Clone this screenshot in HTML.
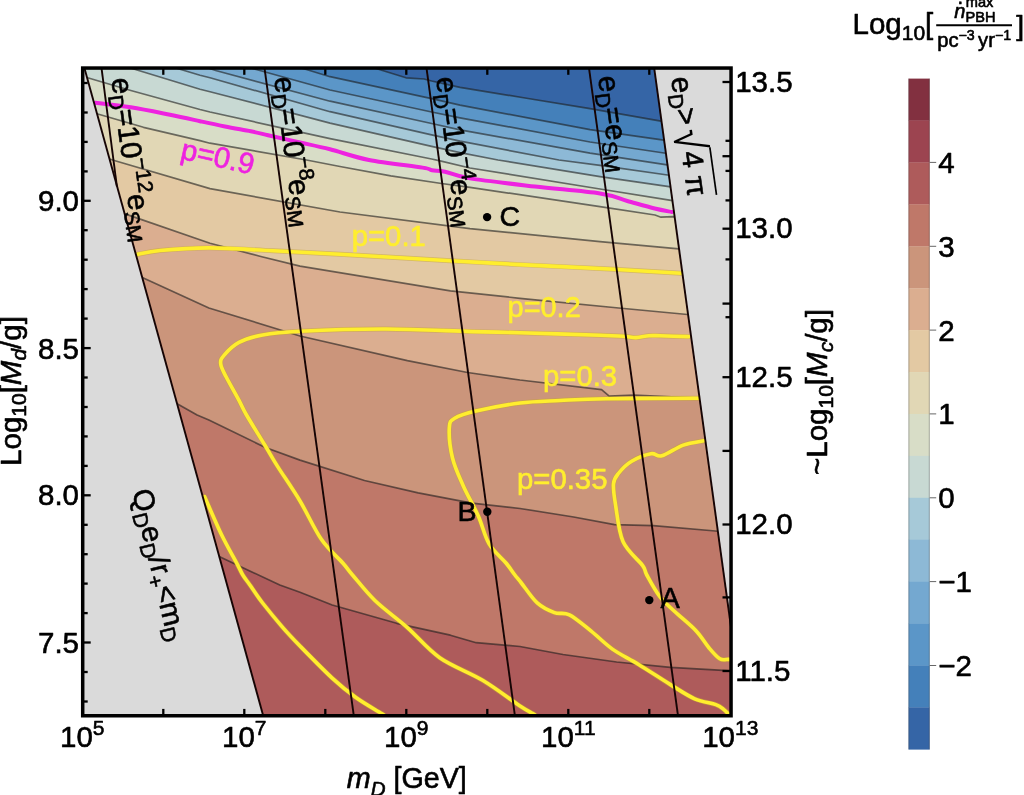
<!DOCTYPE html>
<html><head><meta charset="utf-8"><title>plot</title>
<style>html,body{margin:0;padding:0;background:#fff}svg{display:block}text{stroke:#000;stroke-width:0.6px;stroke-linejoin:round}.y text{stroke:#ffee2e}text.m{stroke:#ee22e0}</style>
</head><body>
<svg width="1024" height="795" viewBox="0 0 1024 795" font-family="'Liberation Sans', sans-serif">
<rect width="1024" height="795" fill="#fff"/>
<defs>
<clipPath id="frame"><rect x="82.5" y="68.0" width="648.5" height="647.7"/></clipPath>
<clipPath id="reg"><path d="M84.4,68.0 L654.2,68.0 L731.0,627.0 L731.0,715.7 L263.2,715.7Z"/></clipPath>
</defs>
<g clip-path="url(#reg)">
<rect x="60" y="50" width="700" height="700" fill="#3565A6"/>
<path d="M350.0,60.0 L383.3,70.8 L406.0,77.8 L424.0,79.0 L431.6,81.0 L460.0,87.3 L525.0,98.0 L590.0,108.6 L659.5,120.8 L740.0,134.0 L760,800 L-10,800 L-10,60.0 Z" fill="#4480BA"/>
<path d="M275.0,60.0 L308.0,70.0 L330.0,76.7 L431.6,98.7 L460.0,105.1 L590.0,129.7 L662.0,139.8 L740.0,151.0 L760,800 L-10,800 L-10,60.0 Z" fill="#5B96C8"/>
<path d="M225.0,60.0 L258.0,70.0 L330.0,90.0 L431.6,112.0 L460.0,117.8 L590.0,142.0 L664.0,153.0 L740.0,164.0 L760,800 L-10,800 L-10,60.0 Z" fill="#74A8D0"/>
<path d="M185.0,60.0 L216.5,70.8 L330.0,101.2 L431.6,123.5 L460.0,129.8 L590.0,153.2 L665.5,164.7 L740.0,176.0 L760,800 L-10,800 L-10,60.0 Z" fill="#8DB9D6"/>
<path d="M150.0,60.0 L185.0,70.8 L200.0,75.2 L210.0,77.8 L330.0,111.7 L431.6,134.9 L460.0,141.2 L558.9,160.0 L600.0,165.3 L667.5,175.0 L740.0,186.0 L760,800 L-10,800 L-10,60.0 Z" fill="#A6C9D8"/>
<path d="M105.0,60.0 L137.0,70.0 L200.0,89.2 L210.0,91.7 L330.0,123.1 L431.6,146.3 L460.0,152.7 L498.0,160.0 L600.0,176.7 L669.0,186.7 L740.0,197.0 L760,800 L-10,800 L-10,60.0 Z" fill="#C8D9D3"/>
<path d="M60.0,69.0 L87.6,77.8 L130.8,90.5 L200.0,109.5 L210.0,112.0 L330.0,138.7 L431.6,159.0 L439.0,160.6 L470.0,168.0 L600.0,189.0 L671.0,200.3 L740.0,211.0 L760,800 L-10,800 L-10,69.0 Z" fill="#D8DDC7"/>
<path d="M60.0,103.0 L97.8,114.0 L143.5,127.3 L200.0,140.6 L210.0,143.2 L306.5,160.0 L340.0,166.5 L390.8,175.9 L441.6,183.5 L470.0,187.3 L600.0,206.7 L655.0,215.0 L661.0,217.2 L672.8,216.7 L740.0,224.0 L760,800 L-10,800 L-10,103.0 Z" fill="#E1D7B5"/>
<path d="M60.0,145.0 L111.0,159.5 L116.8,161.3 L210.0,188.6 L340.0,212.0 L470.0,228.6 L600.0,241.6 L678.9,248.9 L740.0,255.0 L760,800 L-10,800 L-10,145.0 Z" fill="#E3C9A3"/>
<path d="M60.0,192.0 L130.8,215.9 L210.0,243.2 L236.0,250.0 L260.8,256.5 L300.0,266.1 L450.4,290.8 L520.0,298.3 L618.8,308.0 L687.6,314.5 L740.0,319.0 L760,800 L-10,800 L-10,192.0 Z" fill="#DBAE90"/>
<path d="M60.0,240.0 L143.4,278.0 L208.9,308.0 L300.0,336.0 L407.4,360.6 L467.6,372.5 L520.0,380.0 L601.6,389.6 L609.2,396.1 L633.9,395.0 L698.3,398.2 L740.0,400.0 L760,800 L-10,800 L-10,240.0 Z" fill="#CB957B"/>
<path d="M60.0,345.0 L176.7,403.6 L197.1,415.0 L208.9,420.0 L264.8,447.2 L300.0,460.1 L364.5,480.5 L418.2,492.8 L471.9,503.1 L520.0,508.5 L573.7,517.0 L614.5,524.6 L653.2,525.6 L715.5,531.0 L745.0,534.0 L760,800 L-10,800 L-10,345.0 Z" fill="#BF7869"/>
<path d="M60.0,480.0 L219.7,556.8 L251.9,571.9 L279.8,585.0 L300.0,592.2 L332.2,605.0 L396.7,623.3 L450.4,635.2 L476.2,642.7 L520.0,646.5 L563.0,654.5 L616.7,662.0 L670.4,667.4 L727.3,670.6 L745.0,671.5 L760,800 L-10,800 L-10,480.0 Z" fill="#AE5B5B"/>
<g fill="none" stroke="#1c1c1c" stroke-opacity="0.6" stroke-width="1.7" stroke-linejoin="round">
<path d="M350.0,60.0 L383.3,70.8 L406.0,77.8 L424.0,79.0 L431.6,81.0 L460.0,87.3 L525.0,98.0 L590.0,108.6 L659.5,120.8 L740.0,134.0"/>
<path d="M275.0,60.0 L308.0,70.0 L330.0,76.7 L431.6,98.7 L460.0,105.1 L590.0,129.7 L662.0,139.8 L740.0,151.0"/>
<path d="M225.0,60.0 L258.0,70.0 L330.0,90.0 L431.6,112.0 L460.0,117.8 L590.0,142.0 L664.0,153.0 L740.0,164.0"/>
<path d="M185.0,60.0 L216.5,70.8 L330.0,101.2 L431.6,123.5 L460.0,129.8 L590.0,153.2 L665.5,164.7 L740.0,176.0"/>
<path d="M150.0,60.0 L185.0,70.8 L200.0,75.2 L210.0,77.8 L330.0,111.7 L431.6,134.9 L460.0,141.2 L558.9,160.0 L600.0,165.3 L667.5,175.0 L740.0,186.0"/>
<path d="M105.0,60.0 L137.0,70.0 L200.0,89.2 L210.0,91.7 L330.0,123.1 L431.6,146.3 L460.0,152.7 L498.0,160.0 L600.0,176.7 L669.0,186.7 L740.0,197.0"/>
<path d="M60.0,69.0 L87.6,77.8 L130.8,90.5 L200.0,109.5 L210.0,112.0 L330.0,138.7 L431.6,159.0 L439.0,160.6 L470.0,168.0 L600.0,189.0 L671.0,200.3 L740.0,211.0"/>
<path d="M60.0,103.0 L97.8,114.0 L143.5,127.3 L200.0,140.6 L210.0,143.2 L306.5,160.0 L340.0,166.5 L390.8,175.9 L441.6,183.5 L470.0,187.3 L600.0,206.7 L655.0,215.0 L661.0,217.2 L672.8,216.7 L740.0,224.0"/>
<path d="M60.0,145.0 L111.0,159.5 L116.8,161.3 L210.0,188.6 L340.0,212.0 L470.0,228.6 L600.0,241.6 L678.9,248.9 L740.0,255.0"/>
<path d="M60.0,192.0 L130.8,215.9 L210.0,243.2 L236.0,250.0 L260.8,256.5 L300.0,266.1 L450.4,290.8 L520.0,298.3 L618.8,308.0 L687.6,314.5 L740.0,319.0"/>
<path d="M60.0,240.0 L143.4,278.0 L208.9,308.0 L300.0,336.0 L407.4,360.6 L467.6,372.5 L520.0,380.0 L601.6,389.6 L609.2,396.1 L633.9,395.0 L698.3,398.2 L740.0,400.0"/>
<path d="M60.0,345.0 L176.7,403.6 L197.1,415.0 L208.9,420.0 L264.8,447.2 L300.0,460.1 L364.5,480.5 L418.2,492.8 L471.9,503.1 L520.0,508.5 L573.7,517.0 L614.5,524.6 L653.2,525.6 L715.5,531.0 L745.0,534.0"/>
<path d="M60.0,480.0 L219.7,556.8 L251.9,571.9 L279.8,585.0 L300.0,592.2 L332.2,605.0 L396.7,623.3 L450.4,635.2 L476.2,642.7 L520.0,646.5 L563.0,654.5 L616.7,662.0 L670.4,667.4 L727.3,670.6 L745.0,671.5"/>
</g>
<g fill="none" stroke="#c7a534" stroke-opacity="0.55" stroke-width="4.9" stroke-linejoin="round" stroke-linecap="round">
<path d="M137.5,254.4 C141.2,253.8 147.9,251.6 160.0,250.5 C172.1,249.4 191.1,247.8 210.0,247.9 C228.9,248.0 251.8,249.8 273.5,250.8 C295.2,251.9 310.5,252.5 340.0,254.2 C369.5,255.8 420.4,259.0 450.4,260.7 C480.4,262.4 492.6,263.2 520.0,264.6 C547.4,266.0 587.6,267.9 614.5,269.3 C641.4,270.7 670.0,272.6 681.1,273.2"/>
<path d="M204.6,496.7 C207.5,503.1 216.4,524.2 221.8,535.3 C227.2,546.4 233.3,556.7 236.8,563.3 C240.3,569.9 240.6,571.4 242.8,575.0 C245.0,578.6 246.6,580.3 249.9,585.0 C253.2,589.7 257.2,596.1 262.6,603.0 C268.0,609.9 275.8,619.4 282.0,626.6 C288.2,633.8 291.6,637.4 300.0,646.0 C308.4,654.6 322.9,669.5 332.2,678.1 C341.5,686.7 347.7,691.6 355.9,697.5 C364.1,703.4 376.8,710.5 381.6,713.6 C386.5,716.7 384.4,715.6 385.0,716.0"/>
<path d="M688.6,336.6 C683.8,336.5 666.6,336.0 660.0,335.8 C653.4,335.6 652.9,335.4 648.9,335.7 C644.9,336.0 640.3,337.5 636.0,337.6 C631.7,337.7 629.1,336.6 623.1,336.2 C617.1,335.8 617.2,335.9 600.0,335.3 C582.8,334.7 541.3,333.3 520.0,332.7 C498.7,332.1 494.3,332.2 472.0,331.6 C449.7,331.0 414.7,329.1 386.0,329.0 C357.3,328.9 320.6,330.2 300.0,331.2 C279.4,332.2 272.8,333.0 262.6,334.9 C252.4,336.8 245.4,339.0 239.0,342.4 C232.6,345.8 227.1,351.7 224.0,355.3 C220.9,358.9 220.3,360.3 220.7,363.9 C221.0,367.5 223.0,370.7 226.1,376.8 C229.2,382.9 235.6,394.0 239.0,400.4 C242.4,406.8 242.2,407.6 246.5,415.0 C250.8,422.4 259.6,436.4 264.8,445.0 C270.0,453.6 271.8,457.3 277.7,466.6 C283.6,475.9 292.7,488.8 300.0,501.0 C307.3,513.2 314.3,529.2 321.5,539.6 C328.7,550.0 337.8,557.3 343.0,563.2 C348.2,569.1 347.1,568.7 352.5,575.0 C357.9,581.3 366.1,592.0 375.2,600.8 C384.3,609.6 396.6,618.1 407.4,627.6 C418.1,637.1 427.2,648.9 439.7,657.7 C452.2,666.5 469.2,672.2 482.6,680.3 C496.0,688.3 511.6,700.5 520.0,706.0 C528.4,711.5 530.2,711.9 532.9,713.6 C535.6,715.3 535.5,715.6 536.0,716.0"/>
<path d="M698.3,398.2 C682.9,398.3 629.0,398.3 606.0,398.7 C583.0,399.1 574.3,399.8 560.0,400.5 C545.7,401.2 534.0,401.2 520.0,403.0 C506.0,404.8 486.9,408.5 476.0,411.0 C465.1,413.5 459.1,415.4 454.7,418.2 C450.2,421.0 449.7,421.3 449.3,427.9 C448.9,434.5 450.2,448.3 452.5,458.0 C454.8,467.7 459.0,476.2 463.3,485.9 C467.6,495.6 474.0,506.3 478.3,516.0 C482.6,525.7 484.5,536.1 489.1,543.9 C493.7,551.7 501.8,557.9 506.0,563.0 C510.2,568.1 512.0,571.2 514.5,574.5 C517.0,577.8 517.2,577.8 521.0,582.5 C524.8,587.2 531.6,597.9 537.2,602.9 C542.8,607.9 549.0,610.6 554.4,612.6 C559.8,614.6 563.3,611.8 569.4,614.8 C575.5,617.8 583.7,625.2 590.9,630.9 C598.1,636.6 604.5,643.5 612.4,649.1 C620.3,654.7 628.5,658.3 638.2,664.2 C647.9,670.1 661.0,678.8 670.4,684.6 C679.8,690.4 687.1,695.5 694.7,698.8 C702.3,702.1 711.0,702.9 715.8,704.6 C720.6,706.4 721.4,707.6 723.6,709.3 C725.8,711.0 727.4,713.1 729.0,714.6 C730.6,716.1 732.3,717.9 733.0,718.5"/>
<path d="M703.7,440.8 C700.3,441.5 690.3,442.6 683.3,445.1 C676.3,447.6 667.2,454.4 661.8,455.8 C656.4,457.2 656.0,452.8 651.0,453.7 C646.0,454.6 637.1,458.0 631.7,461.2 C626.3,464.4 621.8,469.2 618.8,473.0 C615.8,476.8 614.0,478.4 613.5,483.8 C613.0,489.2 614.0,495.5 615.6,505.2 C617.2,514.9 618.6,531.8 623.1,541.8 C627.6,551.8 638.5,559.9 642.5,565.4 C646.5,570.9 643.9,569.8 646.8,575.0 C649.7,580.2 655.1,590.4 659.7,596.5 C664.4,602.6 668.6,605.8 674.7,611.5 C680.8,617.2 690.5,624.8 696.2,630.9 C701.9,637.0 705.2,643.4 709.1,648.0 C713.0,652.6 716.6,656.9 719.8,658.8 C723.0,660.7 726.2,659.3 728.4,659.4 C730.6,659.5 732.2,659.4 733.0,659.4"/>
</g>
<g fill="none" stroke="#ffee2e" stroke-width="3.6" stroke-linejoin="round" stroke-linecap="round">
<path d="M137.5,254.4 C141.2,253.8 147.9,251.6 160.0,250.5 C172.1,249.4 191.1,247.8 210.0,247.9 C228.9,248.0 251.8,249.8 273.5,250.8 C295.2,251.9 310.5,252.5 340.0,254.2 C369.5,255.8 420.4,259.0 450.4,260.7 C480.4,262.4 492.6,263.2 520.0,264.6 C547.4,266.0 587.6,267.9 614.5,269.3 C641.4,270.7 670.0,272.6 681.1,273.2"/>
<path d="M204.6,496.7 C207.5,503.1 216.4,524.2 221.8,535.3 C227.2,546.4 233.3,556.7 236.8,563.3 C240.3,569.9 240.6,571.4 242.8,575.0 C245.0,578.6 246.6,580.3 249.9,585.0 C253.2,589.7 257.2,596.1 262.6,603.0 C268.0,609.9 275.8,619.4 282.0,626.6 C288.2,633.8 291.6,637.4 300.0,646.0 C308.4,654.6 322.9,669.5 332.2,678.1 C341.5,686.7 347.7,691.6 355.9,697.5 C364.1,703.4 376.8,710.5 381.6,713.6 C386.5,716.7 384.4,715.6 385.0,716.0"/>
<path d="M688.6,336.6 C683.8,336.5 666.6,336.0 660.0,335.8 C653.4,335.6 652.9,335.4 648.9,335.7 C644.9,336.0 640.3,337.5 636.0,337.6 C631.7,337.7 629.1,336.6 623.1,336.2 C617.1,335.8 617.2,335.9 600.0,335.3 C582.8,334.7 541.3,333.3 520.0,332.7 C498.7,332.1 494.3,332.2 472.0,331.6 C449.7,331.0 414.7,329.1 386.0,329.0 C357.3,328.9 320.6,330.2 300.0,331.2 C279.4,332.2 272.8,333.0 262.6,334.9 C252.4,336.8 245.4,339.0 239.0,342.4 C232.6,345.8 227.1,351.7 224.0,355.3 C220.9,358.9 220.3,360.3 220.7,363.9 C221.0,367.5 223.0,370.7 226.1,376.8 C229.2,382.9 235.6,394.0 239.0,400.4 C242.4,406.8 242.2,407.6 246.5,415.0 C250.8,422.4 259.6,436.4 264.8,445.0 C270.0,453.6 271.8,457.3 277.7,466.6 C283.6,475.9 292.7,488.8 300.0,501.0 C307.3,513.2 314.3,529.2 321.5,539.6 C328.7,550.0 337.8,557.3 343.0,563.2 C348.2,569.1 347.1,568.7 352.5,575.0 C357.9,581.3 366.1,592.0 375.2,600.8 C384.3,609.6 396.6,618.1 407.4,627.6 C418.1,637.1 427.2,648.9 439.7,657.7 C452.2,666.5 469.2,672.2 482.6,680.3 C496.0,688.3 511.6,700.5 520.0,706.0 C528.4,711.5 530.2,711.9 532.9,713.6 C535.6,715.3 535.5,715.6 536.0,716.0"/>
<path d="M698.3,398.2 C682.9,398.3 629.0,398.3 606.0,398.7 C583.0,399.1 574.3,399.8 560.0,400.5 C545.7,401.2 534.0,401.2 520.0,403.0 C506.0,404.8 486.9,408.5 476.0,411.0 C465.1,413.5 459.1,415.4 454.7,418.2 C450.2,421.0 449.7,421.3 449.3,427.9 C448.9,434.5 450.2,448.3 452.5,458.0 C454.8,467.7 459.0,476.2 463.3,485.9 C467.6,495.6 474.0,506.3 478.3,516.0 C482.6,525.7 484.5,536.1 489.1,543.9 C493.7,551.7 501.8,557.9 506.0,563.0 C510.2,568.1 512.0,571.2 514.5,574.5 C517.0,577.8 517.2,577.8 521.0,582.5 C524.8,587.2 531.6,597.9 537.2,602.9 C542.8,607.9 549.0,610.6 554.4,612.6 C559.8,614.6 563.3,611.8 569.4,614.8 C575.5,617.8 583.7,625.2 590.9,630.9 C598.1,636.6 604.5,643.5 612.4,649.1 C620.3,654.7 628.5,658.3 638.2,664.2 C647.9,670.1 661.0,678.8 670.4,684.6 C679.8,690.4 687.1,695.5 694.7,698.8 C702.3,702.1 711.0,702.9 715.8,704.6 C720.6,706.4 721.4,707.6 723.6,709.3 C725.8,711.0 727.4,713.1 729.0,714.6 C730.6,716.1 732.3,717.9 733.0,718.5"/>
<path d="M703.7,440.8 C700.3,441.5 690.3,442.6 683.3,445.1 C676.3,447.6 667.2,454.4 661.8,455.8 C656.4,457.2 656.0,452.8 651.0,453.7 C646.0,454.6 637.1,458.0 631.7,461.2 C626.3,464.4 621.8,469.2 618.8,473.0 C615.8,476.8 614.0,478.4 613.5,483.8 C613.0,489.2 614.0,495.5 615.6,505.2 C617.2,514.9 618.6,531.8 623.1,541.8 C627.6,551.8 638.5,559.9 642.5,565.4 C646.5,570.9 643.9,569.8 646.8,575.0 C649.7,580.2 655.1,590.4 659.7,596.5 C664.4,602.6 668.6,605.8 674.7,611.5 C680.8,617.2 690.5,624.8 696.2,630.9 C701.9,637.0 705.2,643.4 709.1,648.0 C713.0,652.6 716.6,656.9 719.8,658.8 C723.0,660.7 726.2,659.3 728.4,659.4 C730.6,659.5 732.2,659.4 733.0,659.4"/>
</g>
<path d="M95.5,102.8 C101.4,103.5 118.4,105.3 130.8,107.3 C143.2,109.3 158.5,112.5 170.0,114.8 C181.5,117.1 190.8,119.2 200.0,121.2 C209.2,123.2 216.5,124.8 225.0,126.5 C233.5,128.2 243.6,129.9 250.8,131.3 C258.0,132.8 259.8,133.3 268.0,135.2 C276.2,137.1 289.7,140.2 300.0,142.5 C310.3,144.8 318.5,146.4 330.0,149.3 C341.5,152.2 353.6,156.9 369.0,160.0 C384.4,163.1 412.0,165.9 422.5,167.6 C433.0,169.3 428.2,169.6 432.0,170.3 C435.8,171.0 438.7,170.3 445.0,171.7 C451.3,173.0 455.0,175.9 470.0,178.4 C485.0,180.9 513.3,184.0 535.0,186.5 C556.7,189.0 584.6,191.1 600.0,193.5 C615.4,195.9 618.2,198.5 627.3,201.0 C636.4,203.5 647.3,206.7 654.7,208.5 C662.1,210.3 668.9,211.4 671.8,212.0" fill="none" stroke="#ee22e0" stroke-width="4" stroke-linejoin="round" stroke-linecap="round"/>
</g>
<g clip-path="url(#frame)">
<path d="M82.5,68.0 L84.4,68.0 L263.2,715.7 L82.5,715.7 Z" fill="#dadada"/>
<path d="M654.2,68.0 L731.0,68.0 L731.0,627.0 L731.0,627.0 Z" fill="#dadada"/>
<g fill="none" stroke="#160404" stroke-width="1.9">
<path d="M84.4,68.0 L263.2,715.7"/>
<path d="M654.2,68.0 L731.0,627.0"/>
<path d="M101.5,68.0 L116.9,186.5"/>
<path d="M264.5,68.0 L353.8,715.7"/>
<path d="M426.5,68.0 L514.9,715.7"/>
<path d="M589.0,68.0 L678.0,715.7"/>
</g>
</g>
<circle cx="487.1" cy="217.1" r="4.2" fill="#000"/>
<circle cx="487.3" cy="511.7" r="4.2" fill="#000"/>
<circle cx="649.3" cy="600.1" r="4.2" fill="#000"/>
<rect x="82.70" y="68.05" width="648.35" height="647.70" fill="none" stroke="#000" stroke-width="3.5"/>
<g stroke="#000" stroke-width="2.3">
<path d="M163.3,714.7 v-5.8"/>
<path d="M163.3,69.0 v5.8"/>
<path d="M244.3,714.7 v-5.8"/>
<path d="M244.3,69.0 v5.8"/>
<path d="M325.3,714.7 v-5.8"/>
<path d="M325.3,69.0 v5.8"/>
<path d="M406.3,714.7 v-5.8"/>
<path d="M406.3,69.0 v5.8"/>
<path d="M487.3,714.7 v-5.8"/>
<path d="M487.3,69.0 v5.8"/>
<path d="M568.3,714.7 v-5.8"/>
<path d="M568.3,69.0 v5.8"/>
<path d="M649.3,714.7 v-5.8"/>
<path d="M649.3,69.0 v5.8"/>
<path d="M83.5,83.0 h4.2"/>
<path d="M83.5,112.5 h4.2"/>
<path d="M83.5,141.9 h4.2"/>
<path d="M83.5,171.4 h4.2"/>
<path d="M83.5,200.8 h7.2"/>
<path d="M83.5,230.2 h4.2"/>
<path d="M83.5,259.7 h4.2"/>
<path d="M83.5,289.1 h4.2"/>
<path d="M83.5,318.6 h4.2"/>
<path d="M83.5,348.1 h7.2"/>
<path d="M83.5,377.5 h4.2"/>
<path d="M83.5,407.0 h4.2"/>
<path d="M83.5,436.4 h4.2"/>
<path d="M83.5,465.9 h4.2"/>
<path d="M83.5,495.3 h7.2"/>
<path d="M83.5,524.8 h4.2"/>
<path d="M83.5,554.2 h4.2"/>
<path d="M83.5,583.6 h4.2"/>
<path d="M83.5,613.1 h4.2"/>
<path d="M83.5,642.5 h7.2"/>
<path d="M83.5,672.0 h4.2"/>
<path d="M83.5,701.5 h4.2"/>
<path d="M730.0,82.0 h-7.5"/>
<path d="M730.0,228.7 h-7.5"/>
<path d="M730.0,377.2 h-7.5"/>
<path d="M730.0,524.5 h-7.5"/>
<path d="M730.0,671.0 h-7.5"/>
<path d="M730.0,156.2 h-7.5"/>
<path d="M730.0,303.6 h-7.5"/>
<path d="M730.0,450.9 h-7.5"/>
<path d="M730.0,597.4 h-7.5"/>
<path d="M730.0,140.8 h-4.5"/>
<path d="M730.0,170.9 h-4.5"/>
<path d="M730.0,200.4 h-4.5"/>
<path d="M730.0,259.4 h-4.5"/>
<path d="M730.0,317.2 h-4.5"/>
</g>
<g font-size="29.5" fill="#000">
<text x="79" y="211.2" text-anchor="end">9.0</text>
<text x="79" y="358.8" text-anchor="end">8.5</text>
<text x="79" y="505.3" text-anchor="end">8.0</text>
<text x="79" y="653.1" text-anchor="end">7.5</text>
<text x="735.2" y="91.5">13.5</text>
<text x="735.2" y="238.2">13.0</text>
<text x="735.2" y="386.7">12.5</text>
<text x="735.2" y="534.0">12.0</text>
<text x="735.2" y="680.5">11.5</text>
<text x="82.3" y="746.6" text-anchor="middle">10<tspan font-size="21" dy="-12">5</tspan></text>
<text x="244.3" y="746.6" text-anchor="middle">10<tspan font-size="21" dy="-12">7</tspan></text>
<text x="406.3" y="746.6" text-anchor="middle">10<tspan font-size="21" dy="-12">9</tspan></text>
<text x="568.3" y="746.6" text-anchor="middle">10<tspan font-size="21" dy="-12">11</tspan></text>
<text x="730.3" y="746.6" text-anchor="middle">10<tspan font-size="21" dy="-12">13</tspan></text>
</g>
<text x="406.8" y="788" font-size="28.7" text-anchor="middle"><tspan font-style="italic">m</tspan><tspan font-style="italic" font-size="20.5" dy="8">D</tspan><tspan dy="-8"> [GeV]</tspan></text>
<text transform="translate(20.5,391) rotate(-90)" font-size="29.5" text-anchor="middle">Log<tspan font-size="21" dy="5.5">10</tspan><tspan dy="-5.5">[</tspan><tspan font-style="italic">M</tspan><tspan font-style="italic" font-size="21" dy="5.5">d</tspan><tspan dy="-5.5">/g]</tspan></text>
<text transform="translate(827.3,392) rotate(-90)" font-size="29.5" text-anchor="middle">~Log<tspan font-size="21" dy="5.5">10</tspan><tspan dy="-5.5">[</tspan><tspan font-style="italic">M</tspan><tspan font-style="italic" font-size="21" dy="5.5">c</tspan><tspan dy="-5.5">/g]</tspan></text>
<g font-size="29.5" fill="#000">
<text transform="translate(111.2,79) rotate(82.2)">e<tspan font-size="21" dy="5.5">D</tspan><tspan dy="-5.5">=10</tspan><tspan font-size="21" dy="-12">−12</tspan><tspan dy="12">e</tspan><tspan font-size="21" dy="5.5">SM</tspan></text>
<text transform="translate(274,78) rotate(82.2)">e<tspan font-size="21" dy="5.5">D</tspan><tspan dy="-5.5">=10</tspan><tspan font-size="21" dy="-12">−8</tspan><tspan dy="12" dx="-2.5">e</tspan><tspan font-size="21" dy="5.5">SM</tspan></text>
<text transform="translate(436,78) rotate(82.2)">e<tspan font-size="21" dy="5.5">D</tspan><tspan dy="-5.5">=10</tspan><tspan font-size="21" dy="-12">−4</tspan><tspan dy="12" dx="-2.5">e</tspan><tspan font-size="21" dy="5.5">SM</tspan></text>
<text transform="translate(598,77) rotate(82.2)">e<tspan font-size="21" dy="5.5">D</tspan><tspan dy="-5.5">=e</tspan><tspan font-size="21" dy="5.5">SM</tspan></text>
<text transform="translate(671,78) rotate(82)">e<tspan font-size="21" dy="5.5">D</tspan><tspan dy="-5.5">&gt;</tspan><tspan dx="26.5">4 π</tspan></text>
<text transform="translate(132,491.5) rotate(76.4)" font-size="29">Q<tspan font-size="21" dy="5.5">D</tspan><tspan dy="-5.5">e</tspan><tspan font-size="21" dy="5.5">D</tspan><tspan dy="-5.5">/r</tspan><tspan font-size="21" dy="5.5">+</tspan><tspan dy="-5.5">&lt;m</tspan><tspan font-size="21" dy="5.5">D</tspan></text>
<text x="499.5" y="225.6" font-size="28.5">C</text>
<text x="457.5" y="520.5" font-size="28.5">B</text>
<text x="660.6" y="608.4" font-size="29">A</text>
</g>
<g transform="translate(671,78) rotate(82)"><text transform="translate(53.3,5.6) scale(1,1.149)" font-size="38.4" style="stroke-width:0">√</text><path d="M74.2,-28.8 H122" fill="none" stroke="#000" stroke-width="1.7"/></g>
<g class="y" font-size="29.3" fill="#ffee2e">
<text x="351.7" y="246.3">p=0.1</text>
<text x="507.6" y="316.5" font-size="28.9">p=0.2</text>
<text x="543" y="385.8">p=0.3</text>
<text x="517" y="489">p=0.35</text>
</g>
<text transform="translate(179.5,158.4) rotate(12.6)" class="m" font-size="29.3" fill="#ee22e0">p=0.9</text>
<rect x="908.5" y="78.60" width="21.2" height="42.22" fill="#823040"/>
<rect x="908.5" y="120.52" width="21.2" height="42.22" fill="#9C4450"/>
<rect x="908.5" y="162.44" width="21.2" height="42.22" fill="#AE5B5B"/>
<rect x="908.5" y="204.36" width="21.2" height="42.22" fill="#BF7869"/>
<rect x="908.5" y="246.27" width="21.2" height="42.22" fill="#CB957B"/>
<rect x="908.5" y="288.19" width="21.2" height="42.22" fill="#DBAE90"/>
<rect x="908.5" y="330.11" width="21.2" height="42.22" fill="#E3C9A3"/>
<rect x="908.5" y="372.03" width="21.2" height="42.22" fill="#E1D7B5"/>
<rect x="908.5" y="413.95" width="21.2" height="42.22" fill="#D8DDC7"/>
<rect x="908.5" y="455.87" width="21.2" height="42.22" fill="#C8D9D3"/>
<rect x="908.5" y="497.79" width="21.2" height="42.22" fill="#A6C9D8"/>
<rect x="908.5" y="539.71" width="21.2" height="42.22" fill="#8DB9D6"/>
<rect x="908.5" y="581.62" width="21.2" height="42.22" fill="#74A8D0"/>
<rect x="908.5" y="623.54" width="21.2" height="42.22" fill="#5B96C8"/>
<rect x="908.5" y="665.46" width="21.2" height="42.22" fill="#4480BA"/>
<rect x="908.5" y="707.38" width="21.2" height="42.22" fill="#3565A6"/>
<path d="M908.9,78.6 V749.3 M929.3,78.6 V749.3" stroke="#444" stroke-opacity="0.45" stroke-width="0.8" fill="none"/>
<g stroke="#666" stroke-width="1">
<path d="M929.7,162.4 h6.5"/>
<path d="M929.7,246.3 h6.5"/>
<path d="M929.7,330.1 h6.5"/>
<path d="M929.7,413.9 h6.5"/>
<path d="M929.7,497.8 h6.5"/>
<path d="M929.7,581.6 h6.5"/>
<path d="M929.7,665.5 h6.5"/>
</g>
<g font-size="29.5" fill="#000">
<text x="938.3" y="172.8">4</text>
<text x="938.3" y="256.7">3</text>
<text x="938.3" y="340.5">2</text>
<text x="938.3" y="424.3">1</text>
<text x="938.3" y="508.2">0</text>
<text x="938.3" y="592.0">−1</text>
<text x="938.3" y="675.9">−2</text>
</g>
<text x="852.5" y="34.3" font-size="29.5">Log<tspan font-size="21" dy="5.5">10</tspan><tspan dy="-5.5">[</tspan></text>
<path d="M936.2,25.3 H1012" stroke="#000" stroke-width="2.1"/>
<text x="954.3" y="18" font-size="20"><tspan font-style="italic">n</tspan><tspan font-size="14.6" dy="4.3">PBH</tspan></text>
<text x="960.3" y="4" font-size="20" text-anchor="middle">.</text>
<text x="965.8" y="6.6" font-size="14.6">max</text>
<text x="937.2" y="47.3" font-size="20.2">pc<tspan font-size="14.2" dy="-7.6">−3</tspan><tspan dy="7.6" dx="-2.2"> yr</tspan><tspan font-size="14.2" dy="-7.6">−1</tspan></text>
<text x="1016.3" y="34.6" font-size="28.3">]</text>
</svg>
</body></html>
